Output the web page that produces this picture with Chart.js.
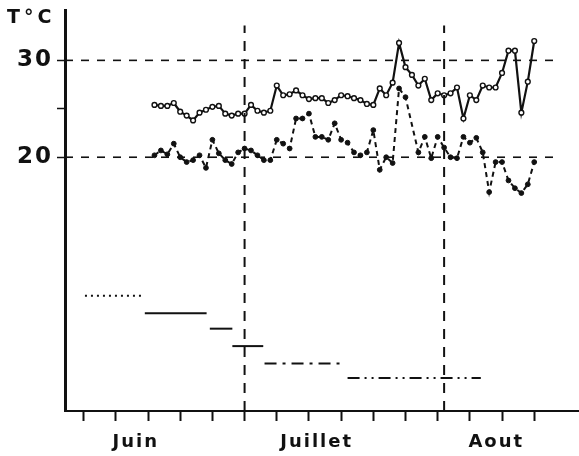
<!DOCTYPE html>
<html>
<head>
<meta charset="utf-8">
<title>Temperatures juin - aout</title>
<script src="https://cdn.jsdelivr.net/npm/chart.js@4/dist/chart.umd.min.js"></script>
<style>
  html, body { margin: 0; padding: 0; background: #fff; }
  #wrap { width: 579px; height: 456px; }
</style>
</head>
<body>
<div id="wrap"><canvas id="tempChart" width="579" height="456"></canvas></div>
<script>
/***************************************************/
/********************* DATA ************************/
/***************************************************/
// days counted from 1 June (30 = 30 June, 61 = 31 July)
var days = [16, 17, 18, 19, 20, 21, 22, 23, 24, 25, 26, 27, 28, 29, 30,
            31, 32, 33, 34, 35, 36, 37, 38, 39, 40, 41, 42, 43, 44, 45,
            46, 47, 48, 49, 50, 51, 52, 53, 54, 55, 56, 57, 58, 59, 60,
            61, 62, 63, 64, 65, 66, 67, 68, 69, 70, 71, 72, 73, 74, 75];

// upper curve (solid line)
var tUpper = [25.4, 25.3, 25.3, 25.6, 24.7, 24.3, 23.8, 24.6, 24.9, 25.2, 25.3, 24.5, 24.3, 24.5, 24.5,
              25.4, 24.8, 24.6, 24.8, 27.4, 26.4, 26.5, 26.9, 26.4, 26.0, 26.1, 26.1, 25.6, 25.9, 26.4,
              26.3, 26.1, 25.9, 25.5, 25.4, 27.1, 26.4, 27.7, 31.8, 29.3, 28.5, 27.4, 28.1, 25.9, 26.6,
              26.4, 26.6, 27.2, 24.0, 26.4, 25.9, 27.4, 27.2, 27.2, 28.7, 31.0, 31.0, 24.6, 27.8, 32.0];

// lower curve (dashed line)
var tLower = [20.2, 20.7, 20.3, 21.4, 20.0, 19.5, 19.7, 20.2, 18.9, 21.8, 20.4, 19.7, 19.3, 20.5, 20.9,
              20.7, 20.2, 19.7, 19.7, 21.8, 21.4, 20.9, 24.0, 24.0, 24.5, 22.1, 22.1, 21.8, 23.5, 21.8,
              21.5, 20.5, 20.2, 20.5, 22.8, 18.7, 20.0, 19.4, 27.1, 26.2, null, 20.5, 22.1, 19.9, 22.1,
              21.0, 20.0, 19.9, 22.1, 21.5, 22.0, 20.5, 16.4, 19.5, 19.5, 17.6, 16.8, 16.3, 17.2, 19.5];

// stage bars in the lower part
var stageStart = [5.2, 14.5, 24.6, 28.1, 33.1, 46.0];
var stageEnd   = [14.5, 24.1, 28.1, 32.9, 45.2, 66.7];
var stageLevel = [5.7, 3.9, 2.3, 0.5, -1.3, -2.8];

// reference lines
var refTemps = [20, 30];
var refEnd = 78.5;
var monthEnds = [30, 61];
var monthEndTop = 33.6;

// axes
var dayTicks = [5, 10, 15, 20, 25, 30, 35, 40, 45, 50, 55, 60, 65, 70, 75];
var tempTicks = [20, 25, 30];
var tempLabels = ['20', '', '30'];
var monthNames = ['Juin', 'Juillet', 'Aout'];
var monthMid = [13.1, 41.2, 69.1];

var xMin = 2.1, xMax = 81.8;
var yMin = -6.2, yMax = 35.2;

/***************************************************/
/******************* DATASETS **********************/
/***************************************************/
var ink = '#111';
var stageDash = [[2, 4], [], [], [], [12, 6, 3, 6], [12, 5, 2, 5, 2, 5]];

function toPoints(xs, ys) {
    return xs.map(function (x, i) { return { x: x, y: ys[i] }; });
}

var datasets = [];

// horizontal dashed lines at 20 and 30
refTemps.forEach(function (t) {
    datasets.push({
        data: [{ x: xMin, y: t }, { x: refEnd, y: t }],
        borderColor: ink, borderWidth: 1.6, borderDash: [8, 8],
        pointRadius: 0
    });
});

// vertical dashed lines at month ends
monthEnds.forEach(function (d) {
    datasets.push({
        data: [{ x: d, y: yMin }, { x: d, y: monthEndTop }],
        borderColor: ink, borderWidth: 2, borderDash: [10, 8],
        pointRadius: 0
    });
});

// stage segments
stageStart.forEach(function (s, i) {
    datasets.push({
        data: [{ x: s, y: stageLevel[i] }, { x: stageEnd[i], y: stageLevel[i] }],
        borderColor: ink, borderWidth: 2, borderDash: stageDash[i],
        pointRadius: 0
    });
});

// lower curve
datasets.push({
    data: toPoints(days, tLower),
    borderColor: ink, borderWidth: 2, borderDash: [5, 4],
    spanGaps: true,
    pointRadius: 2.4, pointBackgroundColor: ink, pointBorderColor: ink, pointBorderWidth: 1
});

// upper curve
datasets.push({
    data: toPoints(days, tUpper),
    borderColor: ink, borderWidth: 2.2,
    pointRadius: 2.4, pointBackgroundColor: '#fff', pointBorderColor: ink, pointBorderWidth: 1.4
});

/***************************************************/
/******************** PLUGINS **********************/
/***************************************************/
var spacedText = {
    id: 'spacedText',
    beforeDraw: function (chart) { chart.ctx.letterSpacing = '2px'; },
    afterDraw: function (chart) {
        var ctx = chart.ctx;
        ctx.save();
        ctx.letterSpacing = '4px';
        ctx.font = 'bold 19px "DejaVu Sans"';
        ctx.fillStyle = ink;
        ctx.textBaseline = 'top';
        ctx.textAlign = 'left';
        ctx.fillText('T°C', 7, 9);
        ctx.restore();
        ctx.letterSpacing = '0px';
    }
};

function noPadding(scale) {
    scale.paddingTop = 0;
    scale.paddingBottom = 0;
    scale.paddingLeft = 0;
    scale.paddingRight = 0;
}

/***************************************************/
/********************* CHART ***********************/
/***************************************************/
var canvas = document.getElementById('tempChart').getContext('2d');
var tempChart = new Chart(canvas, {
    type: 'line',
    data: { datasets: datasets },
    options: {
        responsive: false,
        animation: false,
        events: [],
        layout: { autoPadding: false, padding: { top: 10, right: 1, left: 0, bottom: 0 } },
        plugins: { legend: { display: false }, tooltip: { enabled: false }, title: { display: false } },
        elements: { line: { tension: 0, fill: false } },
        scales: {
            x: {
                type: 'linear', position: 'bottom', min: xMin, max: xMax,
                afterBuildTicks: function (scale) {
                    scale.ticks = dayTicks.map(function (v) { return { value: v }; });
                },
                afterFit: function (scale) { scale.height = 10; noPadding(scale); },
                ticks: { display: false },
                grid: { drawOnChartArea: false, drawTicks: true, tickLength: 10, tickWidth: 2, tickColor: ink },
                border: { display: true, color: ink, width: 2 }
            },
            x2: {
                type: 'linear', position: 'bottom', min: xMin, max: xMax,
                afterBuildTicks: function (scale) {
                    scale.ticks = monthMid.map(function (v) { return { value: v }; });
                },
                afterFit: function (scale) { scale.height = 35; noPadding(scale); },
                ticks: {
                    autoSkip: false, maxRotation: 0, padding: 11, color: ink,
                    font: { family: 'DejaVu Sans', size: 18, weight: 'bold' },
                    callback: function (value, index) { return monthNames[index]; }
                },
                grid: { display: false, drawTicks: false },
                border: { display: false }
            },
            y: {
                type: 'linear', min: yMin, max: yMax,
                afterBuildTicks: function (scale) {
                    scale.ticks = tempTicks.map(function (v) { return { value: v }; });
                },
                afterFit: function (scale) { scale.width = 65; noPadding(scale); },
                ticks: {
                    padding: 4, color: ink,
                    font: { family: 'DejaVu Sans', size: 23, weight: 'bold' },
                    callback: function (value, index) { return tempLabels[index]; }
                },
                grid: { drawOnChartArea: false, tickLength: 8, tickWidth: 1.5, tickColor: ink },
                border: { display: true, color: ink, width: 3 }
            }
        }
    },
    plugins: [spacedText]
});
</script>
</body>
</html>
